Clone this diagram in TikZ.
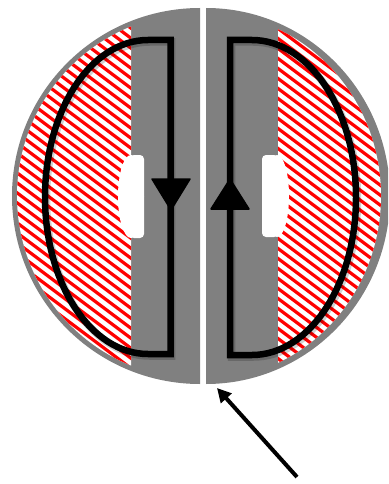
\documentclass[tikz,border=0pt]{standalone}
\usetikzlibrary{arrows.meta}
\definecolor{plate}{RGB}{128,128,128}
\definecolor{hatchred}{RGB}{255,0,0}
\tikzset{
  halfplate/.style={fill=plate},
  hatchline/.style={draw=hatchred, line width=3.2pt},
  notch/.style={fill=white},
  loopline/.style={draw=black, line width=6.5pt, line join=miter},
  loopshadow/.style={draw=black, opacity=0.18, line width=7.5pt},
  headfill/.style={fill=black, draw=black, line width=1.5pt, line join=round},
  pointer/.style={draw=black, line width=4pt, -{Triangle[length=14pt,width=14pt]}}
}
\begin{document}
\begin{tikzpicture}[x=1pt,y=-1pt]
\useasboundingbox (0,0) rectangle (388,484);
% grey halves
\begin{scope}
  \clip (0,0) rectangle (200,484);
  \fill[halfplate] (200,196) ellipse [x radius=188, y radius=188];
\end{scope}
\begin{scope}
  \clip (206,0) rectangle (388,484);
  \fill[halfplate] (206,196) ellipse [x radius=184, y radius=188];
\end{scope}
% left hatch
\begin{scope}
  \clip (0,0) rectangle (131,484);
  \clip (200,196) ellipse [x radius=183, y radius=183];
  \fill[white] (0,0) rectangle (200,484);
  \foreach \k in {-320,-310,...,500} \draw[hatchline] (0,\k) -- (400,\k+300);
\end{scope}
% right hatch
\begin{scope}
  \clip (278,0) rectangle (388,484);
  \clip (206,196) ellipse [x radius=175, y radius=183];
  \fill[white] (200,0) rectangle (388,484);
  \foreach \k in {-320,-310,...,500} \draw[hatchline] (0,\k) -- (400,\k+300);
\end{scope}
% white notches
\fill[notch, rounded corners=4pt] (130,155) rectangle (144,238);
\fill[notch] (131,196.5) ellipse [x radius=13, y radius=41.5];
\fill[notch, rounded corners=4pt] (262,155) rectangle (278,237);
\fill[notch] (277,196) ellipse [x radius=12, y radius=41];
% shadows of loops
\draw[loopshadow] (171.5,42) -- (149.5,42) arc[start angle=-90, end angle=-270, x radius=103, y radius=157] -- (171.5,356) -- cycle;
\draw[loopshadow] (231.5,42) -- (253.5,42) arc[start angle=-90, end angle=90, x radius=104, y radius=157.5] -- (231.5,357) -- cycle;
% loops
\coordinate (lt) at (170.5,40);
\coordinate (lb) at (170.5,354);
\coordinate (rt) at (230,40);
\coordinate (rb) at (230,355);
\draw[loopline] (lt) -- (148,40) arc[start angle=-90, end angle=-270, x radius=103, y radius=157] -- (lb) -- cycle;
\draw[loopline] (rt) -- (252,40) arc[start angle=-90, end angle=90, x radius=104, y radius=157.5] -- (rb) -- cycle;
% arrowheads
\fill[headfill] (152,179) -- (190,179) -- (171,210) -- cycle;
\fill[headfill] (211,209) -- (249,209) -- (230,179) -- cycle;
% pointer arrow
\coordinate (ptail) at (297,477);
\coordinate (phead) at (217,388);
\draw[pointer] (ptail) -- (phead);
\end{tikzpicture}
\end{document}
